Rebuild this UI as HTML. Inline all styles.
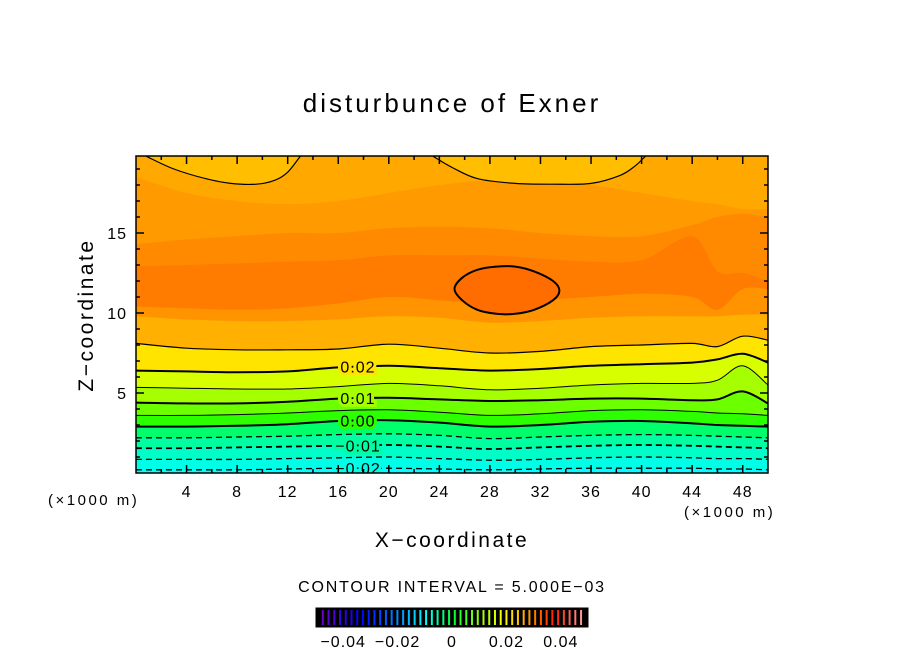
<!DOCTYPE html>
<html><head><meta charset="utf-8"><style>
html,body{margin:0;padding:0;background:#fff;}
svg{display:block;font-family:"Liberation Sans",sans-serif;}
</style></head><body>
<svg id="chart" width="904" height="654" viewBox="0 0 904 654">
<text x="452" y="112" font-size="26" letter-spacing="3" text-anchor="middle">disturbunce of Exner</text>
<g id="plot"></g>
<g id="axes"></g>
<text x="93" y="315" font-size="21" letter-spacing="2.5" text-anchor="middle" transform="rotate(-90 93 315)">Z−coordinate</text>
<text x="452" y="547" font-size="21" letter-spacing="2.5" text-anchor="middle">X−coordinate</text>
<text x="48" y="505" font-size="15" letter-spacing="2.5">(×1000 m)</text>
<text x="684" y="517" font-size="15" letter-spacing="2.5">(×1000 m)</text>
<text x="452" y="592" font-size="16" letter-spacing="1.8" text-anchor="middle">CONTOUR INTERVAL = 5.000E−03</text>
<g id="cbar"></g>
</svg>
<script>
const xNodes=[0,4,8,12,16,20,24,28,32,36,40,44,46,48,50];
const zM020=[0.2,0.2,0.2,0.25,0.3,0.3,0.25,0.2,0.25,0.3,0.3,0.3,0.25,0.25,0.2];
const zM015=[0.85,0.85,0.85,0.9,0.95,1.0,0.9,0.8,0.85,0.95,1.0,0.95,0.9,0.9,0.85];
const zM010=[1.55,1.55,1.6,1.65,1.7,1.75,1.65,1.5,1.6,1.7,1.75,1.7,1.65,1.6,1.55];
const zM005=[2.2,2.2,2.25,2.3,2.4,2.45,2.35,2.15,2.25,2.35,2.4,2.35,2.3,2.25,2.2];
const zP000=[2.9,2.9,2.95,3.05,3.25,3.3,3.15,2.9,3.0,3.2,3.25,3.1,3.0,2.95,2.9];
const zP005=[3.6,3.6,3.65,3.75,3.9,3.95,3.8,3.6,3.7,3.9,3.95,3.85,3.75,3.7,3.6];
const zP010=[4.4,4.35,4.35,4.45,4.65,4.7,4.6,4.5,4.55,4.65,4.65,4.55,4.6,5.1,4.35];
const zP015=[5.35,5.3,5.25,5.25,5.4,5.6,5.45,5.2,5.3,5.5,5.6,5.6,5.8,6.7,5.5];
const zP020=[6.4,6.35,6.3,6.35,6.6,6.7,6.55,6.4,6.5,6.7,6.8,6.9,7.1,7.45,6.9];
const zP025=[8.1,7.8,7.7,7.7,7.75,8.05,7.8,7.5,7.6,7.9,8.0,8.1,7.9,8.55,8.3];
const zS1=[9.8,9.6,9.5,9.5,9.6,9.8,9.7,9.4,9.5,9.7,9.8,9.8,9.8,9.9,9.9];
const zS2=[10.4,10.3,10.2,10.3,10.6,11.0,10.8,10.6,10.8,11.0,11.2,11.0,10.2,11.5,11.5];
const zS3=[12.9,13.0,13.1,13.2,13.3,13.6,13.6,13.6,13.4,13.2,13.3,14.8,12.6,12.5,12.0];
const zS4=[14.3,14.6,14.8,15.0,15.0,15.3,15.4,15.3,15.0,14.8,14.8,15.5,16.0,16.2,16.0];
const zS5=[18.5,17.5,17.0,16.8,17.0,17.5,18.0,18.3,18.2,18.0,17.5,17.0,16.8,16.5,16.5];
const topAX=[0.8,3,5.5,7.5,9.5,11,12,13];
const topAZ=[19.8,19.0,18.4,18.1,18.05,18.3,18.8,19.8];
const topBX=[23.5,25,27,30,33,36,38.3,39.5,40.3];
const topBZ=[19.8,19.1,18.4,18.1,18.05,18.1,18.6,19.2,19.8];
const ellX=[25.2,25.8,27,28.5,30,31.5,33,33.5,33,31.5,30,28.5,27,25.8];
const ellZ=[11.5,12.2,12.7,12.9,12.9,12.6,12.0,11.4,10.8,10.2,9.95,9.95,10.2,10.8];
const xTicks=[4,8,12,16,20,24,28,32,36,40,44,48];
const zTicks=[5,10,15];
const cbTicks=[-0.04,-0.02,0,0.02,0.04];
const cbLabels=["−0.04","−0.02","0","0.02","0.04"];

const NS="http://www.w3.org/2000/svg";
const X0=136,X1=768,Y0=156,Y1=473;
const sx=x=>X0+(X1-X0)*x/50;
const sz=z=>Y1-16*z;
const plot=document.getElementById('plot');
function mk(tag,attrs,parent){const e=document.createElementNS(NS,tag);for(const k in attrs)e.setAttribute(k,attrs[k]);parent.appendChild(e);return e;}
function smooth(pts,closed){
  const n=pts.length;let d="M"+pts[0][0].toFixed(1)+","+pts[0][1].toFixed(1);
  const g=i=>closed?pts[(i+n)%n]:pts[Math.max(0,Math.min(n-1,i))];
  const last=closed?n:n-1;
  for(let i=0;i<last;i++){const p0=g(i-1),p1=g(i),p2=g(i+1),p3=g(i+2);
    const c1=[p1[0]+(p2[0]-p0[0])/6,p1[1]+(p2[1]-p0[1])/6],c2=[p2[0]-(p3[0]-p1[0])/6,p2[1]-(p3[1]-p1[1])/6];
    d+=" C"+c1[0].toFixed(1)+","+c1[1].toFixed(1)+" "+c2[0].toFixed(1)+","+c2[1].toFixed(1)+" "+p2[0].toFixed(1)+","+p2[1].toFixed(1);}
  return d+(closed?" Z":"");
}
const ptsOf=zs=>xNodes.map((x,i)=>[sx(x),sz(zs[i])]);
const defs=mk('defs',{},plot);
const cp=mk('clipPath',{id:'pc'},defs);mk('rect',{x:X0,y:Y0,width:X1-X0,height:Y1-Y0},cp);
const g=mk('g',{'clip-path':'url(#pc)'},plot);
const bg=mk('rect',{x:X0,y:Y0,width:X1-X0,height:Y1-Y0,fill:'#00ffff'},g);


const bands=[[zM020,'#00ffe6'],[zM015,'#00ffc8'],[zM010,'#00ffa0'],[zM005,'#00ff6a'],[zP000,'#2cff00'],[zP005,'#6cff00'],[zP010,'#a6ff00'],[zP015,'#d8ff00'],[zP020,'#ffe400'],[zP025,'#ffb000'],[zS1,'#ff9400'],[zS2,'#ff7c00'],[zS3,'#ff8a00'],[zS4,'#ff9a00'],[zS5,'#ffa800']];
bands.forEach((b,i)=>{
  const d=smooth(ptsOf(b[0]),false)+" L"+(X1+5)+","+(Y0-5)+" L"+(X0-5)+","+(Y0-5)+" Z";
  const p=mk('path',{d:d,fill:b[1]},g);
  
  
});
function topShape(xs,zs,name){
  const pts=xs.map((x,i)=>[sx(x),sz(zs[i])]);
  const p=mk('path',{d:smooth(pts,false)+" Z",fill:'#ffbe00'},g);
  
  
  const l=mk('path',{d:smooth(pts,false),fill:'none',stroke:'#000','stroke-width':1.2},g);
  
  
}
topShape(topAX,topAZ,'top-contour-a');
topShape(topBX,topBZ,'top-contour-b');
const ep=ellX.map((x,i)=>[sx(x),sz(ellZ[i])]);
const el=mk('path',{d:smooth(ep,true),fill:'#ff6c00',stroke:'#000','stroke-width':2},g);


const lines=[[zM020,1.3,true,'-0.020'],[zM015,1.3,true,'-0.015'],[zM010,1.8,true,'-0.010'],[zM005,1.3,true,'-0.005'],[zP000,2,false,'0.000'],[zP005,1,false,'0.005'],[zP010,2,false,'0.010'],[zP015,1,false,'0.015'],[zP020,2,false,'0.020'],[zP025,1.2,false,'0.025']];
lines.forEach(l=>{
  const a={d:smooth(ptsOf(l[0]),false),fill:'none',stroke:'#000','stroke-width':l[1]};
  if(l[2])a['stroke-dasharray']='6,4';
  const p=mk('path',a,g);
  
  
});
const labs=[["0.02",zP020,'#ffe400'],["0.01",zP010,'#a6ff00'],["0.00",zP000,'#2cff00'],["−0.01",zM010,'#00ffa0'],["−0.02",zM020,'#00ffe6']];
labs.forEach(l=>{
  const z=(l[1][4]+l[1][5])/2;
  const t=mk('text',{x:358,y:sz(z)+6,'font-size':16,'letter-spacing':1,'text-anchor':'middle',stroke:l[2],'stroke-width':6,'paint-order':'stroke',fill:'#000'},g);
  t.textContent=l[0];
  
  
});
const ax=document.getElementById('axes');
const fr=mk('rect',{x:X0,y:Y0,width:X1-X0,height:Y1-Y0,fill:'none',stroke:'#000','stroke-width':1.5},ax);


for(let x=2;x<50;x+=2){const L=(x%4===0)?8:4;
  mk('line',{x1:sx(x),x2:sx(x),y1:Y1,y2:Y1-L,stroke:'#000','stroke-width':1.5},ax);
  mk('line',{x1:sx(x),x2:sx(x),y1:Y0,y2:Y0+L,stroke:'#000','stroke-width':1.5},ax);}
for(let z=1;z<20;z++){const L=(z%5===0)?8:4;
  mk('line',{x1:X0,x2:X0+L,y1:sz(z),y2:sz(z),stroke:'#000','stroke-width':1.5},ax);
  mk('line',{x1:X1,x2:X1-L,y1:sz(z),y2:sz(z),stroke:'#000','stroke-width':1.5},ax);}
xTicks.forEach(x=>{const t=mk('text',{x:sx(x),y:497,'font-size':16,'letter-spacing':1,'text-anchor':'middle'},ax);t.textContent=x;
  
  });
zTicks.forEach(z=>{const t=mk('text',{x:127,y:sz(z)+6,'font-size':16,'letter-spacing':1,'text-anchor':'end'},ax);t.textContent=z;
  
  });
const cb=document.getElementById('cbar');
const CX0=316,CX1=588,CY0=608,CY1=627;
const cbx=v=>(CX0+CX1)/2+(CX1-CX0)/2*v/0.05;
mk('rect',{x:CX0,y:CY0,width:CX1-CX0,height:CY1-CY0,fill:'#000',stroke:'#000'},cb);
function cmap(t){const stops=[[0,[110,0,200]],[0.15,[0,0,255]],[0.32,[0,170,255]],[0.4,[0,255,255]],[0.5,[0,255,60]],[0.62,[160,255,0]],[0.7,[255,255,0]],[0.8,[255,150,0]],[0.9,[255,30,0]],[1,[255,150,150]]];
  for(let i=1;i<stops.length;i++)if(t<=stops[i][0]){const a=stops[i-1],b=stops[i],f=(t-a[0])/(b[0]-a[0]);return 'rgb('+a[1].map((c,k)=>Math.round(c+(b[1][k]-c)*f)).join(',')+')';}return 'rgb(255,150,150)';}
for(let i=0;i<46;i++){const v=-0.0475+i*0.00211;
  mk('line',{x1:cbx(v),x2:cbx(v),y1:CY0+2,y2:CY1-2,stroke:cmap(i/45),'stroke-width':2},cb);}
cbTicks.forEach((v,i)=>{const t=mk('text',{x:cbx(v),y:647,'font-size':16,'letter-spacing':1,'text-anchor':'middle'},cb);t.textContent=cbLabels[i];
  
  });
</script>
</body></html>
